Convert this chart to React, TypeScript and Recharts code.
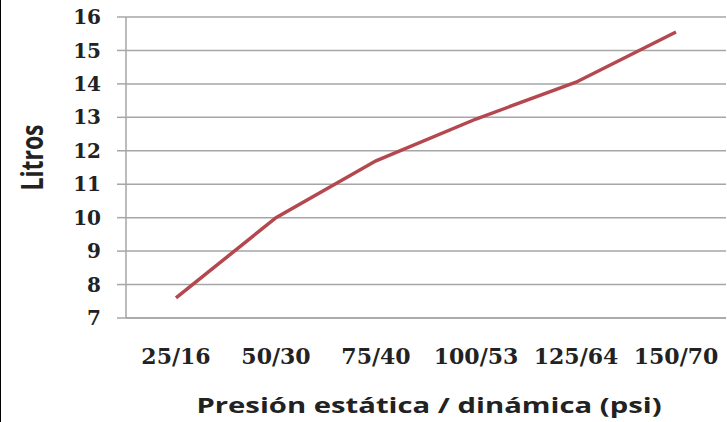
import React from "react";
import { LineChart, Line, XAxis, YAxis, CartesianGrid } from "recharts";

const categories = ["25/16", "50/30", "75/40", "100/53", "125/64", "150/70"];
const litros = [7.6, 10.0, 11.7, 12.95, 14.05, 15.55];
const yTicks = [7, 8, 9, 10, 11, 12, 13, 14, 15, 16];
const xTitle = "Presión estática / dinámica (psi)";
const yTitle = "Litros";

const data = categories.map((c, i) => ({ cat: c, litros: litros[i] }));

const XTitle = (props: any) => {
  const vb = props.viewBox || {};
  const cx = vb.x + vb.width / 2 + 3;
  const by = vb.y + vb.height - 9;
  return (
    <text
      transform={`translate(${cx},${by}) scale(1.33,1)`}
      x={0}
      y={0}
      textAnchor="middle"
      fontFamily="'Open Sans', sans-serif"
      fontWeight={700}
      fontSize={22}
      fill="#222"
    >
      {xTitle}
    </text>
  );
};

const YTitle = (props: any) => {
  const vb = props.viewBox || {};
  const bx = vb.x + 43;
  const cy = vb.y + vb.height / 2 - 10;
  return (
    <text
      transform={`translate(${bx},${cy}) scale(1.35,1) rotate(-90)`}
      x={0}
      y={0}
      textAnchor="middle"
      fontFamily="'Open Sans', sans-serif"
      fontWeight={700}
      fontSize={23}
      fill="#222"
    >
      {yTitle}
    </text>
  );
};

export default function App() {
  return (
    <div
      style={{
        position: "absolute",
        left: 0,
        top: 0,
        width: 727,
        height: 422,
        background: "#fff",
        overflow: "hidden",
      }}
    >
      <div
        style={{
          position: "absolute",
          left: 0,
          top: 0,
          width: 1,
          height: 422,
          background: "#000",
        }}
      />
      <LineChart
        width={727}
        height={422}
        data={data}
        margin={{ top: 17, right: 1, left: 0, bottom: 0 }}
      >
        <CartesianGrid
          horizontal={true}
          vertical={false}
          stroke="#a6a6a6"
          strokeWidth={1.5}
        />
        <XAxis
          dataKey="cat"
          height={104}
          padding={{ left: 50, right: 50 }}
          tickLine={false}
          tickSize={0}
          tickMargin={30}
          axisLine={{ stroke: "#a6a6a6", strokeWidth: 1.5 }}
          tick={{
            fontFamily: "'DejaVu Serif', serif",
            fontWeight: 700,
            fontSize: 22,
            fill: "#222",
          }}
          interval={0}
          label={{ content: XTitle } as any}
        />
        <YAxis
          width={126}
          domain={[7, 16]}
          ticks={yTicks}
          interval={0}
          tickSize={9}
          tickMargin={16}
          axisLine={{ stroke: "#a6a6a6", strokeWidth: 1.5 }}
          tickLine={{ stroke: "#a6a6a6", strokeWidth: 1.5 }}
          tick={{
            fontFamily: "'DejaVu Serif', serif",
            fontWeight: 700,
            fontSize: 20,
            fill: "#222",
          }}
          label={{ content: YTitle } as any}
        />
        <Line
          type="linear"
          dataKey="litros"
          stroke="#b5474f"
          strokeWidth={3.5}
          dot={false}
          activeDot={false}
          isAnimationActive={false}
        />
      </LineChart>
    </div>
  );
}
